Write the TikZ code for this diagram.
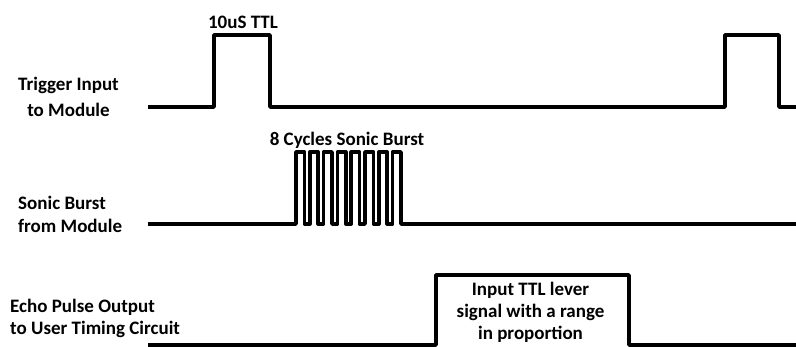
\documentclass[tikz,border=0pt]{standalone}
\usepackage{fontspec}
\setmainfont{Carlito}
\usetikzlibrary{calc}

\tikzset{
	wave/.style = {line width = 3.5pt, line join = round},
	label/.style = {font = \bfseries\fontsize{19}{#1}\selectfont, inner sep = 0pt},
	label/.default = 23
}

\begin{document}
\begin{tikzpicture}[x = 1pt, y = -1pt]
			\def\xs{148};
			\def\xe{796};
			\def\hi{8.4};
			\def\lo{5.4};
			
			\useasboundingbox (0,0) rectangle (796,347);
			
			\coordinate (trig) at (\xs,107);
			\coordinate (burst) at (\xs,224);
			\coordinate (echo) at (\xs,345);
			
			\begin{scope}[wave]
				\draw (trig) -- (214,107) -- (214,35) -- (270,35) -- (270,107)
					-- (725,107) -- (725,35) -- (779,35) -- (779,107) -- (\xe,107);
				\draw (burst) -- (296,224)
					foreach \i in {1,...,8} { -- ++(0,-72) -- ++(\hi,0) -- ++(0,72) -- ++(\lo,0) }
					-- (\xe,224);
				\draw (echo) -- (436,345) -- (436,275) -- (629,275) -- (629,345) -- (\xe,345);
			\end{scope}
			
			\node [label, anchor = base] (ttl) at (243,29) {10uS TTL};
			\node [label, anchor = base] (cycles) at (347,146) {8 Cycles Sonic Burst};
			\node [label = 26, align = center, anchor = base] (trig label) at (68.5,117) {Trigger Input\\to Module};
			\node [label, align = left, anchor = base west] (burst label) at (18,233) {Sonic Burst\\from Module};
			\node [label = 22, align = left, anchor = base west] (echo label) at (10,335) {Echo Pulse Output\\to User Timing Circuit};
			\node [label = 22, align = center, anchor = base] (range) at (530.5,340) {Input TTL lever\\signal with a range\\in proportion};
		\end{tikzpicture}
\end{document}
